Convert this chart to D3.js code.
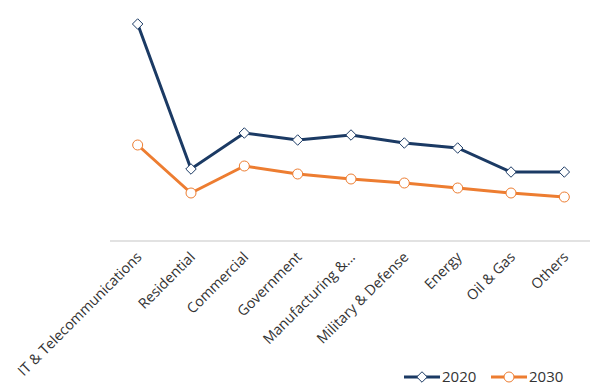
<!DOCTYPE html>
<html>
<head>
<meta charset="utf-8">
<script src="https://cdn.jsdelivr.net/npm/d3@7"></script>
<style>
  body { margin: 0; background: #fff; }
  text { font-family: "Open Sans", "Liberation Sans", sans-serif; fill: #333; }
</style>
</head>
<body>
<script>
var categories = ['IT & Telecommunications', 'Residential', 'Commercial', 'Government',
  'Manufacturing &...', 'Military & Defense', 'Energy', 'Oil & Gas', 'Others'];
var values2020 = [217, 72, 108, 101, 106, 98, 93, 69, 69];
var values2030 = [96, 48, 75, 67, 62, 58, 53, 48, 44];
var seriesNames = ['2020', '2030'];

var navy = '#1b3a64';
var orange = '#ed7d31';

var svg = d3.select('body').append('svg')
  .attr('width', 590)
  .attr('height', 385);

var x = d3.scaleBand()
  .domain(categories)
  .range([111, 591]);

var y = d3.scaleLinear()
  .domain([0, 241])
  .range([241, 0]);

// baseline
svg.append('line')
  .attr('x1', 110)
  .attr('x2', 590)
  .attr('y1', y(0))
  .attr('y2', y(0))
  .attr('stroke', '#d9d9d9')
  .attr('stroke-width', 1.5);

// category labels
var xAxis = svg.append('g')
  .attr('transform', 'translate(0,' + y(0) + ')')
  .call(d3.axisBottom(x).tickSize(0).tickPadding(0));
xAxis.select('.domain').remove();
xAxis.selectAll('text')
  .attr('font-size', 14.3)
  .attr('text-anchor', 'end')
  .attr('dy', 0)
  .attr('fill', '#222')
  .attr('transform', 'translate(5,17) rotate(-45)');

var line = d3.line()
  .x(function(d, i){ return x(categories[i]) + x.bandwidth() / 2; })
  .y(function(d){ return y(d); });

svg.append('path')
  .datum(values2020)
  .attr('d', line)
  .attr('fill', 'none')
  .attr('stroke', navy)
  .attr('stroke-width', 3);

svg.append('path')
  .datum(values2030)
  .attr('d', line)
  .attr('fill', 'none')
  .attr('stroke', orange)
  .attr('stroke-width', 3);

var diamond = d3.symbol().type(d3.symbolDiamond2).size(70);

svg.selectAll('.m2020')
  .data(values2020)
  .enter().append('path')
  .attr('d', diamond)
  .attr('transform', function(d, i){
    return 'translate(' + (x(categories[i]) + x.bandwidth() / 2) + ',' + y(d) + ')';
  })
  .attr('fill', '#fff')
  .attr('stroke', navy)
  .attr('stroke-width', 1);

svg.selectAll('.m2030')
  .data(values2030)
  .enter().append('circle')
  .attr('cx', function(d, i){ return x(categories[i]) + x.bandwidth() / 2; })
  .attr('cy', function(d){ return y(d); })
  .attr('r', 5)
  .attr('fill', '#fff')
  .attr('stroke', orange)
  .attr('stroke-width', 1);

// legend
var legend = svg.append('g').attr('transform', 'translate(404,377)');
var colors = [navy, orange];
seriesNames.forEach(function(name, i){
  var g = legend.append('g').attr('transform', 'translate(' + (i * 87) + ',0)');
  g.append('line')
    .attr('x1', 0).attr('x2', 36)
    .attr('y1', 0).attr('y2', 0)
    .attr('stroke', colors[i])
    .attr('stroke-width', 3);
  if (i == 0) {
    g.append('path')
      .attr('d', diamond)
      .attr('transform', 'translate(18,0)')
      .attr('fill', '#fff')
      .attr('stroke', navy);
  } else {
    g.append('circle')
      .attr('cx', 18).attr('cy', 0).attr('r', 5)
      .attr('fill', '#fff')
      .attr('stroke', orange);
  }
  g.append('text')
    .attr('x', 38)
    .attr('y', 0)
    .attr('dy', '0.35em')
    .attr('font-size', 15)
    .attr('fill', '#222')
    .text(name);
});
</script>
</body>
</html>
